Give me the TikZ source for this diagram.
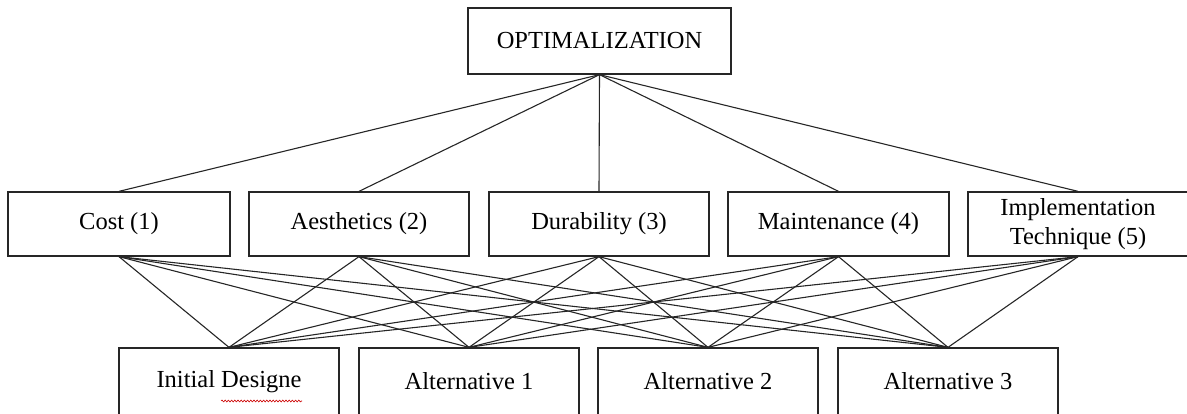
\documentclass[tikz,border=0pt]{standalone}
\usepackage{fontspec}
\setmainfont{Liberation Serif}
\usetikzlibrary{decorations.pathmorphing}
\begin{document}
\begin{tikzpicture}[x=1pt,y=-1pt,
  box/.style={draw=black!85, line width=1.3pt, inner sep=0pt, align=center,
    minimum width=220pt, minimum height=64pt,
    font=\fontsize{24.5}{29.5}\selectfont},
  link/.style={draw=black!85, line width=1.1pt},
  spell/.style={draw=red!80!black, line width=0.6pt,
    decorate, decoration={snake, amplitude=0.9pt, segment length=3.2pt}}]
  \useasboundingbox (0,0) rectangle (1187,414);
  \clip (0,0) rectangle (1187,414);

  % goal
  \node[box, minimum width=263pt, minimum height=66pt] (goal) at (599.5,41) {OPTIMALIZATION};

  % criteria
  \node[box, minimum width=222pt] (c1) at (119,224) {Cost (1)};
  \node[box] (c2) at (359,224) {Aesthetics (2)};
  \node[box] (c3) at (599,224) {Durability (3)};
  \node[box, minimum width=221pt] (c4) at (838.5,224) {Maintenance (4)};
  \node[box] (c5) at (1078,224) {Implementation\\Technique (5)};

  % alternatives
  \node[box, minimum height=67pt] (a0) at (229,381.5) {Initial Designe};
  \node[box, minimum height=67pt] (a1) at (469,381.5) {Alternative 1};
  \node[box, minimum height=67pt] (a2) at (708,381.5) {Alternative 2};
  \node[box, minimum height=67pt] (a3) at (948,381.5) {Alternative 3};

  % goal to criteria
  \foreach \c in {c1,c2,c3,c4,c5}
    \draw[link] (goal.south) -- (\c.north);

  % criteria to alternatives
  \foreach \c in {c1,c2,c3,c4,c5}
    \foreach \a in {a0,a1,a2,a3}
      \draw[link] (\c.south) -- (\a.north);

  % spell-check underline
  \draw[spell] (221,401) -- (302,401);
\end{tikzpicture}
\end{document}
